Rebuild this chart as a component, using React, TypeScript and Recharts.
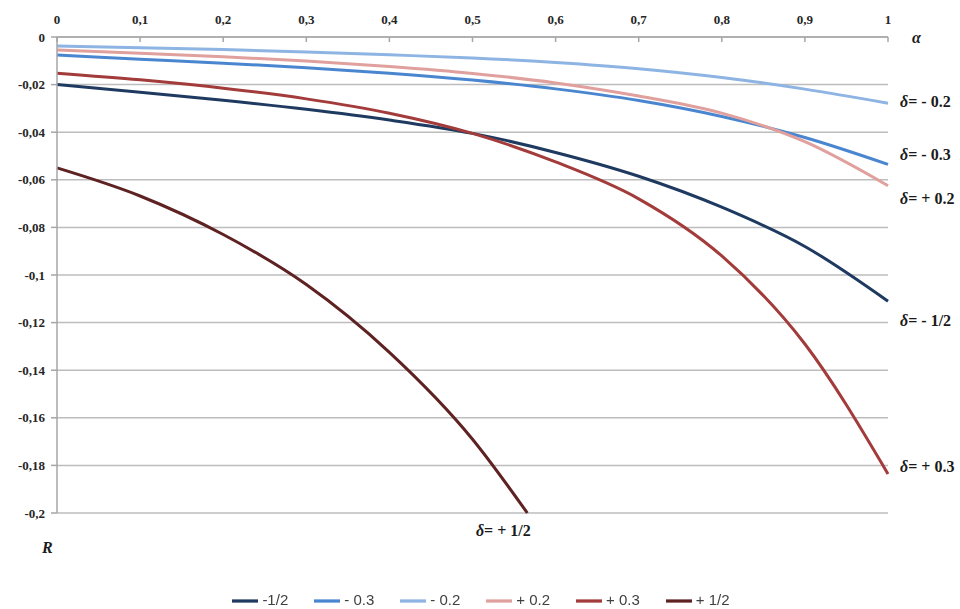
import React from 'react';
import { LineChart, Line, XAxis, YAxis, CartesianGrid, Legend, ReferenceDot } from 'recharts';

// alpha grid for the five full curves
const alpha = [0, 0.1, 0.2, 0.3, 0.4, 0.5, 0.6, 0.7, 0.8, 0.9, 1];
const rMinusHalf = [-0.02, -0.0232, -0.0266, -0.0304, -0.0349, -0.0405, -0.0485, -0.0585, -0.0715, -0.088, -0.111];
const rMinus03 = [-0.0076, -0.0093, -0.011, -0.0129, -0.0152, -0.0181, -0.0218, -0.0267, -0.0334, -0.0422, -0.0535];
const rMinus02 = [-0.0038, -0.0045, -0.0053, -0.0063, -0.0075, -0.0088, -0.0107, -0.0133, -0.017, -0.0219, -0.0278];
const rPlus02 = [-0.0055, -0.0068, -0.0083, -0.0101, -0.0124, -0.0153, -0.0193, -0.0248, -0.032, -0.044, -0.0625];
const rPlus03 = [-0.0152, -0.018, -0.0215, -0.026, -0.032, -0.0405, -0.0525, -0.068, -0.092, -0.129, -0.1836];

// +1/2 curve leaves the plot at R = -0.2
const alphaHalf = [0, 0.1, 0.2, 0.3, 0.4, 0.5, 0.566];
const rPlusHalf = [-0.055, -0.0668, -0.083, -0.104, -0.1325, -0.169, -0.2];

const xTicks = [0, 0.1, 0.2, 0.3, 0.4, 0.5, 0.6, 0.7, 0.8, 0.9, 1];
const yTicks = [0, -0.02, -0.04, -0.06, -0.08, -0.1, -0.12, -0.14, -0.16, -0.18, -0.2];

const toRows = (xs: number[], ys: number[]) => xs.map((a, i) => ({ alpha: a, r: ys[i] }));

const comma = (v: number) => String(v).replace('.', ',');

const serif = '"Liberation Serif", "Times New Roman", serif';
const tickStyle = { fontFamily: serif, fontWeight: 700, fontSize: 13, fill: '#262626' };

const series = [
  { name: '-1/2', rows: toRows(alpha, rMinusHalf), color: '#1F3A60', width: 3 },
  { name: '- 0.3', rows: toRows(alpha, rMinus03), color: '#4A86D0', width: 3 },
  { name: '- 0.2', rows: toRows(alpha, rMinus02), color: '#8DB4E2', width: 3 },
  { name: '+ 0.2', rows: toRows(alpha, rPlus02), color: '#E0A09E', width: 3 },
  { name: '+ 0.3', rows: toRows(alpha, rPlus03), color: '#A23B3A', width: 3 },
  { name: '+ 1/2', rows: toRows(alphaHalf, rPlusHalf), color: '#5E2222', width: 3 },
];
const order = series.map((s) => s.name);

const textShape = (content: React.ReactNode, dx: number, dy: number, anchor: string = 'start') => (p: any) => (
  <text x={p.cx + dx} y={p.cy + dy} textAnchor={anchor} fontFamily={serif} fontWeight={700} fontSize={16} fill="#1a1a1a">
    {content}
  </text>
);

const delta = (rest: string) => (
  <>
    <tspan fontStyle="italic">δ</tspan>
    <tspan>{'= ' + rest}</tspan>
  </>
);

const App: React.FC = () => {
  return (
    <div style={{ position: 'fixed', left: 0, top: 0, width: 960, height: 609, background: '#fff' }}>
      <LineChart width={960} height={609} margin={{ top: 0, right: 72, left: 0, bottom: 70 }}>
        <CartesianGrid vertical={false} stroke="#BDBDBD" strokeWidth={1.5} />
        <XAxis
          dataKey="alpha"
          type="number"
          orientation="top"
          domain={[0, 1]}
          ticks={xTicks}
          tickFormatter={comma}
          height={37}
          stroke="#A6A6A6"
          strokeWidth={1.5}
          tickSize={-5}
          tickMargin={18}
          tick={tickStyle}
          allowDuplicatedCategory={false}
        />
        <YAxis
          type="number"
          domain={[-0.2, 0]}
          ticks={yTicks}
          tickFormatter={comma}
          width={57}
          stroke="#A6A6A6"
          strokeWidth={1.5}
          tickSize={6}
          tickMargin={6}
          tick={tickStyle}
        />
        {series.map((s) => (
          <Line
            key={s.name}
            data={s.rows}
            dataKey="r"
            name={s.name}
            type="monotone"
            stroke={s.color}
            strokeWidth={s.width}
            dot={false}
            activeDot={false}
            isAnimationActive={false}
          />
        ))}
        <Legend
          verticalAlign="bottom"
          align="center"
          iconType="plainline"
          iconSize={26}
          itemSorter={(item: any) => order.indexOf(item.value)}
          wrapperStyle={{ bottom: -5, left: 50 }}
          formatter={(v: string) => (
            <span style={{ color: '#404040', fontFamily: '"Liberation Sans", Arial, sans-serif', fontSize: 15, paddingRight: 16 }}>{v}</span>
          )}
        />
        <ReferenceDot x={1} y={0} r={0} ifOverflow="visible" shape={textShape(<tspan fontStyle="italic">α</tspan>, 24, 6)} />
        <ReferenceDot x={0} y={-0.2} r={0} ifOverflow="visible" shape={textShape(<tspan fontStyle="italic">R</tspan>, -15, 40)} />
        <ReferenceDot x={1} y={-0.0278} r={0} ifOverflow="visible" shape={textShape(delta('- 0.2'), 12, 4)} />
        <ReferenceDot x={1} y={-0.0535} r={0} ifOverflow="visible" shape={textShape(delta('- 0.3'), 12, -4)} />
        <ReferenceDot x={1} y={-0.0625} r={0} ifOverflow="visible" shape={textShape(delta('+ 0.2'), 12, 18)} />
        <ReferenceDot x={1} y={-0.111} r={0} ifOverflow="visible" shape={textShape(delta('- 1/2'), 12, 25)} />
        <ReferenceDot x={1} y={-0.1836} r={0} ifOverflow="visible" shape={textShape(delta('+ 0.3'), 12, -2)} />
        <ReferenceDot x={0.566} y={-0.2} r={0} ifOverflow="visible" shape={textShape(delta('+ 1/2'), -24, 23, 'middle')} />
      </LineChart>
    </div>
  );
};

export default App;
